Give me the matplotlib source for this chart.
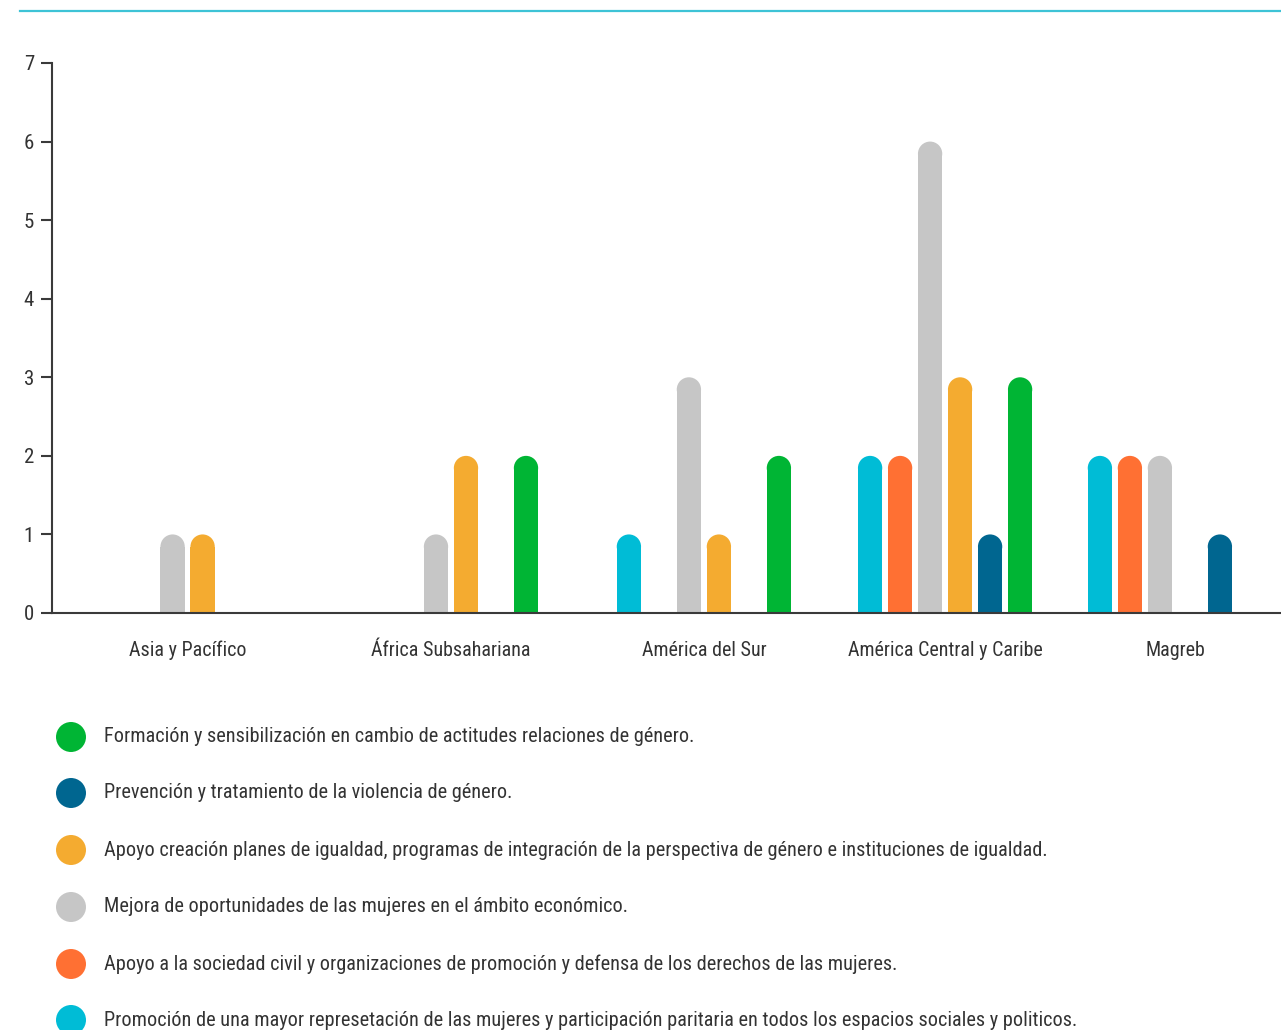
import matplotlib
matplotlib.use("Agg")
import matplotlib.pyplot as plt
from matplotlib import font_manager
from matplotlib.patches import Ellipse, Rectangle
from matplotlib.lines import Line2D

# ---------------- data ----------------
categories = ["Asia y Pacífico", "África Subsahariana", "América del Sur",
              "América Central y Caribe", "Magreb"]

series_names = [
    "Promoción de una mayor represetación de las mujeres y participación paritaria en todos los espacios sociales y politicos.",
    "Apoyo a la sociedad civil y organizaciones de promoción y defensa de los derechos de las mujeres.",
    "Mejora de oportunidades de las mujeres en el ámbito económico.",
    "Apoyo creación planes de igualdad, programas de integración de la perspectiva de género e instituciones de igualdad.",
    "Prevención y tratamiento de la violencia de género.",
    "Formación y sensibilización en cambio de actitudes relaciones de género.",
]

promocion = [0, 0, 1, 2, 2]
sociedad_civil = [0, 0, 0, 2, 2]
oportunidades = [1, 1, 3, 6, 2]
planes_igualdad = [1, 2, 1, 3, 0]
violencia = [0, 0, 0, 1, 1]
formacion = [0, 2, 2, 3, 0]

series_values = [promocion, sociedad_civil, oportunidades, planes_igualdad, violencia, formacion]
colors = ["#00BCD6", "#FF7033", "#C6C6C6", "#F4AB30", "#006690", "#00B534"]

y_ticks = [0, 1, 2, 3, 4, 5, 6, 7]

# ---------------- layout ----------------
group_centers = [4.52, 13.3, 21.73, 29.77, 37.43]   # in slot units
slot = 1.0
bar_w = 0.81

avail = {f.name for f in font_manager.fontManager.ttflist}
fam = None
for cand in ["Liberation Sans Narrow", "Roboto Condensed", "Open Sans Condensed", "Roboto", "DejaVu Sans"]:
    if cand in avail:
        fam = cand
        break
plt.rcParams["font.family"] = [fam, "DejaVu Sans"]

W, H, DPI = 1281, 1030, 100
fig = plt.figure(figsize=(W / DPI, H / DPI), dpi=DPI)
fig.patch.set_facecolor("white")

ax_left, ax_right = 52 / W, 1.0
ax_bottom, ax_top = (H - 613) / H, (H - 63) / H
ax = fig.add_axes([ax_left, ax_bottom, ax_right - ax_left, ax_top - ax_bottom])
xmax = (W - 52) / 30.0
ax.set_xlim(0, xmax)
ax.set_ylim(0, 7)

# pixel scales
px_per_x = (W - 52) / xmax
px_per_y = (613 - 63) / 7.0
r_y = (bar_w * px_per_x / 2) / px_per_y   # cap radius in y data units

n = len(series_values)
for i, (vals, col) in enumerate(zip(series_values, colors)):
    offset = (i - (n - 1) / 2) * slot
    for gc, v in zip(group_centers, vals):
        if v <= 0:
            continue
        xc = gc + offset
        ax.add_patch(Rectangle((xc - bar_w / 2, 0), bar_w, v - r_y,
                               facecolor=col, edgecolor="none", zorder=2))
        ax.add_patch(Ellipse((xc, v - r_y), bar_w, 2 * r_y,
                             facecolor=col, edgecolor="none", zorder=2))

for s in ["top", "right"]:
    ax.spines[s].set_visible(False)
for s in ["left", "bottom"]:
    ax.spines[s].set_color("#3a3a3a")
    ax.spines[s].set_linewidth(1.5)
    ax.spines[s].set_zorder(3)

ax.set_yticks(y_ticks)
ax.set_yticklabels([str(t) for t in y_ticks])
ax.tick_params(axis="y", length=8, width=1.5, color="#3a3a3a", pad=5,
               labelsize=15, labelcolor="#333333")
ax.set_xticks(group_centers)
ax.set_xticklabels(categories)
ax.tick_params(axis="x", length=0, pad=20, labelsize=14.4, labelcolor="#333333")

# top teal rule
fig.add_artist(Line2D([20 / W, 1.0], [(H - 11) / H, (H - 11) / H],
                      color="#3EC3D6", lw=1.6, transform=fig.transFigure))

# legend (reverse order)
row_y = [737, 793, 850, 907, 964, 1020]
legend_order = list(range(n))[::-1]
for ry, idx in zip(row_y, legend_order):
    yf = (H - ry) / H
    fig.add_artist(Ellipse((71 / W, yf), 30 / W, 30 / H, transform=fig.transFigure,
                           facecolor=colors[idx], edgecolor="none"))
    fig.text(104 / W, yf, series_names[idx], fontsize=14.6, color="#333333",
             ha="left", va="center")

fig.savefig("out.png", dpi=DPI, facecolor="white")
